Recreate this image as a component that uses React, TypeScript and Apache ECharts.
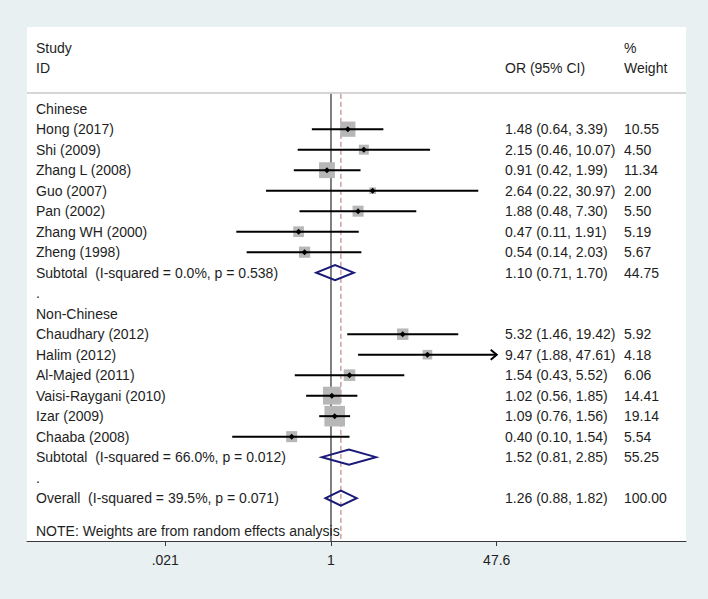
import React, { useEffect, useRef } from "react";
import * as echarts from "echarts";

// ---- data ----
const labels = [
  "Chinese",
  "Hong (2017)",
  "Shi (2009)",
  "Zhang L (2008)",
  "Guo (2007)",
  "Pan (2002)",
  "Zhang WH (2000)",
  "Zheng (1998)",
  "Subtotal  (I-squared = 0.0%, p = 0.538)",
  ".",
  "Non-Chinese",
  "Chaudhary (2012)",
  "Halim (2012)",
  "Al-Majed (2011)",
  "Vaisi-Raygani (2010)",
  "Izar (2009)",
  "Chaaba (2008)",
  "Subtotal  (I-squared = 66.0%, p = 0.012)",
  ".",
  "Overall  (I-squared = 39.5%, p = 0.071)",
];
const kinds = [
  "group", "study", "study", "study", "study", "study", "study", "study", "pooled", "blank",
  "group", "study", "study", "study", "study", "study", "study", "pooled", "blank", "pooled",
];
const estimates = [null, 1.48, 2.15, 0.91, 2.64, 1.88, 0.47, 0.54, 1.10, null, null, 5.32, 9.47, 1.54, 1.02, 1.09, 0.40, 1.52, null, 1.26];
const lowers = [null, 0.64, 0.46, 0.42, 0.22, 0.48, 0.11, 0.14, 0.71, null, null, 1.46, 1.88, 0.43, 0.56, 0.76, 0.10, 0.81, null, 0.88];
const uppers = [null, 3.39, 10.07, 1.99, 30.97, 7.30, 1.91, 2.03, 1.70, null, null, 19.42, 47.61, 5.52, 1.85, 1.56, 1.54, 2.85, null, 1.82];
const weights = [null, 10.55, 4.50, 11.34, 2.00, 5.50, 5.19, 5.67, 44.75, null, null, 5.92, 4.18, 6.06, 14.41, 19.14, 5.54, 55.25, null, 100.0];

const tickValues = [0.021, 1, 47.6];
const tickLabels = [".021", "1", "47.6"];

const headerLeft = ["Study", "ID"];
const headerOR = "OR (95% CI)";
const headerWeight = ["%", "Weight"];
const noteText = "NOTE: Weights are from random effects analysis";

// ---- layout / style constants ----
const ROW_MIN = -3.985;
const ROW_MAX = 21.09;
const HEADER_ROWS = [-2.95, -1.97];
const HEADER_LINE_ROW = -0.77;
const NOTE_ROW = 20.6;
const X_MIN = -7.086;
const X_MAX = 8.275;
const COL_LABEL = 9;
const COL_OR = 478;
const COL_WT = 597;
const BOX_SCALE = 4.7;
const FONT = "'Liberation Sans', Arial, sans-serif";
const TEXT_COLOR = "#1e1e1e";

const ln = Math.log;
const xClipHi = ln(tickValues[tickValues.length - 1]);
const xClipLo = ln(tickValues[0]);

export default function App() {
  const ref = useRef<HTMLDivElement>(null);

  useEffect(() => {
    if (!ref.current) return;
    const chart = echarts.init(ref.current, null, { renderer: "svg" });

    const studyData: number[][] = [];
    const pooledData: number[][] = [];
    kinds.forEach((k, i) => {
      if (k === "study") {
        const hi = ln(uppers[i] as number);
        const lo = ln(lowers[i] as number);
        studyData.push([
          ln(estimates[i] as number), i,
          Math.max(lo, xClipLo), Math.min(hi, xClipHi),
          weights[i] as number, hi > xClipHi ? 1 : 0,
        ]);
      } else if (k === "pooled") {
        pooledData.push([ln(estimates[i] as number), i, ln(lowers[i] as number), ln(uppers[i] as number)]);
      }
    });

    type TextItem = { row: number; col: number; text: string };
    const texts: TextItem[] = [];
    headerLeft.forEach((t, j) => texts.push({ row: HEADER_ROWS[j], col: COL_LABEL, text: t }));
    texts.push({ row: HEADER_ROWS[1], col: COL_OR, text: headerOR });
    headerWeight.forEach((t, j) => texts.push({ row: HEADER_ROWS[j], col: COL_WT, text: t }));
    labels.forEach((t, i) => {
      texts.push({ row: i, col: COL_LABEL, text: t });
      if (estimates[i] != null) {
        texts.push({
          row: i, col: COL_OR,
          text: `${(estimates[i] as number).toFixed(2)} (${(lowers[i] as number).toFixed(2)}, ${(uppers[i] as number).toFixed(2)})`,
        });
        texts.push({ row: i, col: COL_WT, text: (weights[i] as number).toFixed(2) });
      }
    });
    texts.push({ row: NOTE_ROW, col: COL_LABEL, text: noteText });

    const overallEst = estimates[estimates.length - 1] as number;

    const option: any = {
      animation: false,
      backgroundColor: "#e8f0f2",
      grid: {
        left: 27, right: 22, top: 27, bottom: 58,
        show: true, backgroundColor: "#ffffff", borderWidth: 0,
      },
      xAxis: {
        type: "value",
        min: X_MIN,
        max: X_MAX,
        splitLine: { show: false },
        axisLine: { show: true, onZero: false, lineStyle: { color: "#3a3a3a", width: 1 } },
        axisTick: {
          show: true, inside: false, length: 5,
          customValues: tickValues.map(ln),
          lineStyle: { color: "#3a3a3a", width: 1 },
        },
        axisLabel: {
          customValues: tickValues.map(ln),
          margin: 12,
          fontSize: 14,
          fontFamily: FONT,
          color: TEXT_COLOR,
          formatter: (v: number) => {
            let best = 0;
            tickValues.forEach((t, j) => {
              if (Math.abs(ln(t) - v) < Math.abs(ln(tickValues[best]) - v)) best = j;
            });
            return tickLabels[best];
          },
        },
      },
      yAxis: {
        type: "value",
        inverse: true,
        min: ROW_MIN,
        max: ROW_MAX,
        show: false,
        splitLine: { show: false },
      },
      series: [
        {
          // header separator line
          type: "custom",
          data: [[0, HEADER_LINE_ROW]],
          silent: true,
          renderItem: (params: any, api: any) => {
            const y = api.coord([0, api.value(1)])[1];
            const cs = params.coordSys;
            return {
              type: "line",
              shape: { x1: cs.x, y1: y, x2: cs.x + cs.width, y2: y },
              style: { stroke: "#d6d6d6", lineWidth: 2 },
            };
          },
        },
        {
          // null line (OR = 1) and overall dashed line
          type: "custom",
          data: [[0, 0], [ln(overallEst), 1]],
          silent: true,
          renderItem: (params: any, api: any) => {
            const x = api.value(0);
            const dashed = api.value(1) === 1;
            const p1 = api.coord([x, HEADER_LINE_ROW]);
            const p2 = api.coord([x, ROW_MAX]);
            return {
              type: "line",
              shape: { x1: p1[0], y1: p1[1] + 1, x2: p2[0], y2: p2[1] },
              style: dashed
                ? { stroke: "#b57272", lineWidth: 1, lineDash: [5, 3] }
                : { stroke: "#000000", lineWidth: 1 },
            };
          },
        },
        {
          // study boxes, CIs and point estimates
          type: "custom",
          data: studyData,
          silent: true,
          renderItem: (params: any, api: any) => {
            const est = api.value(0), row = api.value(1), lo = api.value(2), hi = api.value(3);
            const w = api.value(4), arrow = api.value(5);
            const c = api.coord([est, row]);
            const pl = api.coord([lo, row]);
            const ph = api.coord([hi, row]);
            const s = BOX_SCALE * Math.sqrt(w);
            const children: any[] = [
              {
                type: "rect",
                shape: { x: c[0] - s / 2, y: c[1] - s / 2, width: s, height: s },
                style: { fill: "#b7b7b7" },
              },
              {
                type: "line",
                shape: { x1: pl[0], y1: c[1], x2: ph[0], y2: c[1] },
                style: { stroke: "#000000", lineWidth: 2 },
              },
              {
                type: "polygon",
                shape: { points: [[c[0] - 3, c[1]], [c[0], c[1] - 3], [c[0] + 3, c[1]], [c[0], c[1] + 3]] },
                style: { fill: "#000000" },
              },
            ];
            if (arrow) {
              children.push({
                type: "polyline",
                shape: { points: [[ph[0] - 6, c[1] - 5], [ph[0], c[1]], [ph[0] - 6, c[1] + 5]] },
                style: { stroke: "#000000", lineWidth: 2, fill: null },
              });
            }
            return { type: "group", children };
          },
        },
        {
          // pooled diamonds
          type: "custom",
          data: pooledData,
          silent: true,
          renderItem: (params: any, api: any) => {
            const est = api.value(0), row = api.value(1), lo = api.value(2), hi = api.value(3);
            const c = api.coord([est, row]);
            const pl = api.coord([lo, row]);
            const ph = api.coord([hi, row]);
            const h = 7.5;
            return {
              type: "polygon",
              shape: { points: [[pl[0], c[1]], [c[0], c[1] - h], [ph[0], c[1]], [c[0], c[1] + h]] },
              style: { stroke: "#1a1a78", lineWidth: 2, fill: null },
            };
          },
        },
        {
          // text columns
          type: "custom",
          data: texts.map((t) => [0, t.row]),
          silent: true,
          renderItem: (params: any, api: any) => {
            const t = texts[params.dataIndex];
            const y = api.coord([0, api.value(1)])[1];
            return {
              type: "text",
              x: params.coordSys.x + t.col,
              y,
              style: {
                text: t.text,
                fill: TEXT_COLOR,
                fontSize: 14,
                fontFamily: FONT,
                align: "left",
                verticalAlign: "middle",
              },
            };
          },
        },
      ],
    };

    chart.setOption(option);
    return () => chart.dispose();
  }, []);

  return (
    <div
      ref={ref}
      style={{ position: "fixed", left: 0, top: 0, width: 708, height: 599 }}
    />
  );
}
